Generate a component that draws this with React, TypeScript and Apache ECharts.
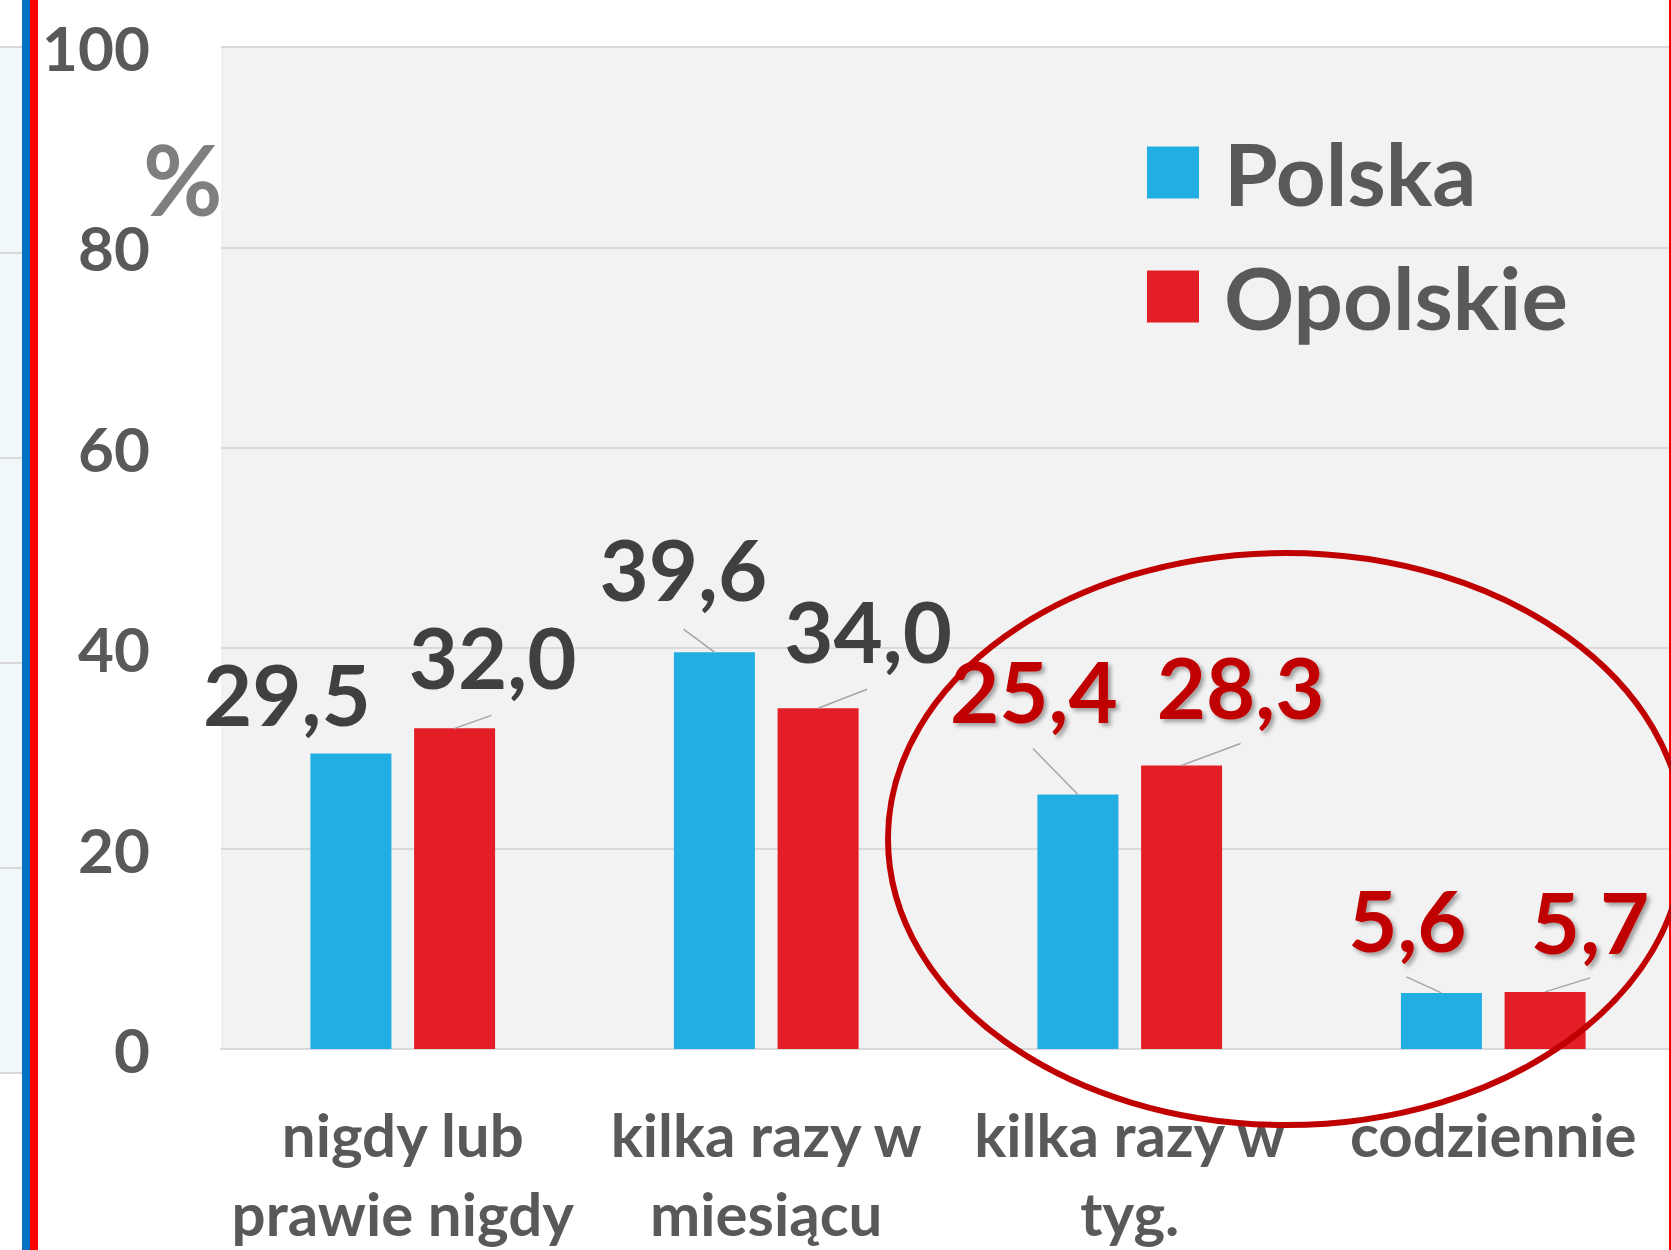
import React, { useEffect, useRef } from "react";
import * as echarts from "echarts";

const categories = ["nigdy lub\nprawie nigdy", "kilka razy w\nmiesiącu", "kilka razy w\ntyg.", "codziennie"];
const seriesNames = ["Polska", "Opolskie"];
const polska = [29.5, 39.6, 25.4, 5.6];
const opolskie = [32.0, 34.0, 28.3, 5.7];
const yTicks = { min: 0, max: 100, interval: 20 };

// label placement relative to the top-centre of each bar (pixels)
const labelOffsets = [
  [[-64, -60], [-31, -84], [-44, -104], [-34, -74]],
  [[38, -72], [50, -78], [59, -79], [45, -71]],
];
// leader line end relative to the top-centre of each bar (pixels)
const leaderEnds = [
  [null, [-31, -23], [-45, -46], [-35, -16]],
  [[37, -13], [49, -19], [59, -22], [45, -14]],
];
const labelHighlight = [false, false, true, true];

const FONT = "Lato";
const BAR_W = 81;
const BAR_GAP = 0.28;
const fmt = (v: number) => v.toFixed(1).replace(".", ",");

function buildData(values: number[]) {
  return values.map((v, i) => {
    const red = labelHighlight[i];
    return {
      value: v,
      label: red
        ? {
            color: "#c00000",
            textShadowColor: "rgba(0,0,0,0.35)",
            textShadowBlur: 4,
            textShadowOffsetX: 3,
            textShadowOffsetY: 3,
          }
        : { color: "#404040" },
    };
  });
}

export default function App() {
  const ref = useRef<HTMLDivElement>(null);
  useEffect(() => {
    if (!ref.current) return;
    const chart = echarts.init(ref.current, null, { renderer: "svg" });
    const colors = ["#22ade3", "#e31e26"];
    const seriesVals = [polska, opolskie];
    const leaderData: number[][] = [];
    seriesVals.forEach((vals, si) =>
      vals.forEach((v, i) => {
        if (leaderEnds[si][i]) leaderData.push([i, v, si]);
      })
    );
    const halfStep = (BAR_W * (1 + BAR_GAP)) / 2;
    chart.setOption({
      animation: false,
      backgroundColor: "#ffffff",
      textStyle: { fontFamily: FONT },
      grid: {
        left: 221,
        right: -4,
        top: 47,
        bottom: 201,
        show: true,
        backgroundColor: "#f2f2f2",
        borderWidth: 0,
        containLabel: false,
        outerBoundsMode: "none",
      },
      legend: {
        orient: "vertical",
        left: 1142,
        top: 124,
        itemWidth: 52,
        itemHeight: 52,
        itemGap: 37,
        icon: "rect",
        textStyle: {
          fontFamily: FONT,
          fontWeight: "bold",
          fontSize: 87,
          color: "#595959",
          padding: [0, 0, 0, 20],
        },
        data: seriesNames,
      },
      xAxis: {
        type: "category",
        data: categories,
        axisTick: { show: false },
        axisLine: { show: true, lineStyle: { color: "#d9d9d9", width: 2 } },
        axisLabel: {
          interval: 0,
          margin: 45,
          fontFamily: FONT,
          fontWeight: "bold",
          fontSize: 60,
          lineHeight: 79,
          color: "#595959",
        },
      },
      yAxis: {
        type: "value",
        min: yTicks.min,
        max: yTicks.max,
        interval: yTicks.interval,
        axisLine: { show: false },
        axisTick: { show: false },
        splitLine: { lineStyle: { color: "#d9d9d9", width: 2 } },
        axisLabel: {
          margin: 71,
          fontFamily: FONT,
          fontWeight: "bold",
          fontSize: 62,
          color: "#595959",
        },
      },
      series: [
        ...seriesNames.map((name, si) => ({
          name,
          type: "bar",
          barWidth: BAR_W,
          barGap: `${BAR_GAP * 100}%`,
          itemStyle: { color: colors[si] },
          data: buildData(seriesVals[si]),
          label: {
            show: true,
            position: "top",
            fontFamily: FONT,
            fontWeight: "bold",
            fontSize: 85,
            formatter: (p: any) => fmt(p.value),
          },
          labelLayout: (params: any) => {
            const off = labelOffsets[params.seriesIndex][params.dataIndex];
            const cx = params.rect.x + params.rect.width / 2;
            return {
              x: cx + off[0],
              y: params.rect.y + off[1],
              align: "center",
              verticalAlign: "middle",
            };
          },
        })),
        {
          name: "leaders",
          type: "custom",
          silent: true,
          z: 5,
          data: leaderData,
          encode: { x: 0, y: 1 },
          renderItem: (params: any, api: any) => {
            const ci = api.value(0);
            const v = api.value(1);
            const si = api.value(2);
            const p = api.coord([ci, v]);
            const cx = p[0] + (si === 0 ? -halfStep : halfStep);
            const end = leaderEnds[si][ci] as number[];
            return {
              type: "line",
              shape: { x1: cx, y1: p[1], x2: cx + end[0], y2: p[1] + end[1] },
              style: { stroke: "#a6a6a6", lineWidth: 1.5 },
            };
          },
        },
      ],
      graphic: [
        {
          type: "rect",
          shape: { x: 0, y: 47, width: 22, height: 1026 },
          style: { fill: "#f0f8fc" },
          z: 1,
        },
        ...[47, 253, 458, 663, 868, 1073].map((y) => ({
          type: "line",
          shape: { x1: 0, y1: y, x2: 22, y2: y },
          style: { stroke: "#d9d9d9", lineWidth: 2 },
          z: 2,
        })),
        {
          type: "rect",
          shape: { x: 22, y: 0, width: 8, height: 1250 },
          style: { fill: "#0070c0" },
          z: 3,
        },
        {
          type: "rect",
          shape: { x: 30, y: 0, width: 8, height: 1250 },
          style: { fill: "#ff0000" },
          z: 3,
        },
        {
          type: "rect",
          shape: { x: 1669, y: 0, width: 2, height: 1250 },
          style: { fill: "#ff0000" },
          z: 3,
        },
        {
          type: "text",
          x: 143,
          y: 178,
          style: {
            text: "%",
            font: `bold 97px ${FONT}`,
            fill: "#7f7f7f",
            textAlign: "left",
            textVerticalAlign: "middle",
          },
          z: 3,
        },
        {
          type: "ellipse",
          shape: { cx: 1286, cy: 839, rx: 398, ry: 286 },
          style: { fill: "none", stroke: "#c00000", lineWidth: 6 },
          z: 100,
        },
      ],
    });
    return () => chart.dispose();
  }, []);
  return (
    <div
      ref={ref}
      style={{ position: "absolute", left: 0, top: 0, width: 1671, height: 1250 }}
    />
  );
}
